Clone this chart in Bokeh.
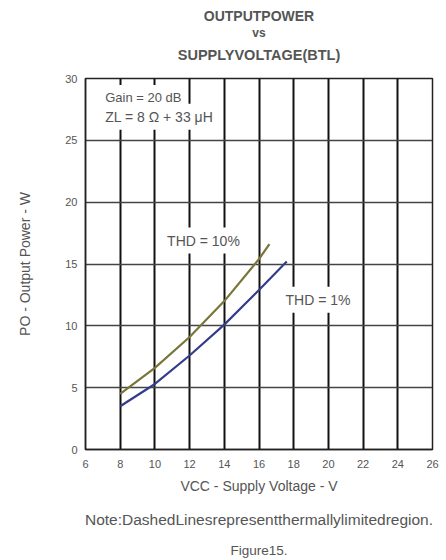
from bokeh.plotting import figure
from bokeh.models import Label, FixedTicker, Range1d, Title
from bokeh.embed import file_html
from bokeh.resources import INLINE

# Output power vs supply voltage (BTL)
supply_10 = [8, 10, 12, 14, 16, 16.6]
power_10 = [4.5, 6.6, 9.1, 12.0, 15.4, 16.6]
supply_1 = [8, 10, 12, 14, 16, 17.6]
power_1 = [3.5, 5.3, 7.6, 10.1, 12.9, 15.2]

x_ticks = [6, 8, 10, 12, 14, 16, 18, 20, 22, 24, 26]
y_ticks = [0, 5, 10, 15, 20, 25, 30]

FONT = "Liberation Sans"
TXT = "#555555"

p = figure(width=446, height=560, output_backend="svg", toolbar_location=None,
           x_range=Range1d(6, 26), y_range=Range1d(0, 30),
           min_border_left=85, min_border_right=14, min_border_top=78,
           min_border_bottom=111)
p.background_fill_color = "white"
p.border_fill_color = "white"
p.outline_line_color = "#222222"
p.outline_line_width = 1.5

# axes
for ax in (p.xaxis, p.yaxis):
    ax.major_tick_in = 0
    ax.major_tick_out = 0
    ax.minor_tick_in = 0
    ax.minor_tick_out = 0
    ax.axis_line_color = "#222222"
    ax.axis_line_width = 1.5
    ax.major_label_text_font = FONT
    ax.major_label_text_font_size = "11px"
    ax.major_label_text_color = TXT
    ax.axis_label_text_font = FONT
    ax.axis_label_text_font_size = "14px"
    ax.axis_label_text_color = TXT
    ax.axis_label_text_font_style = "normal"

p.xaxis.ticker = FixedTicker(ticks=x_ticks)
p.yaxis.ticker = FixedTicker(ticks=y_ticks)
p.xaxis.major_label_standoff = 10
p.yaxis.major_label_standoff = 8
p.xaxis.axis_label = "VCC - Supply Voltage - V"
p.xaxis.axis_label_standoff = 7
p.yaxis.axis_label = "PO - Output Power - W"
p.yaxis.axis_label_standoff = 29

# grid: heavy verticals, lighter horizontals
p.xgrid.ticker = FixedTicker(ticks=x_ticks[1:-1])
p.ygrid.ticker = FixedTicker(ticks=y_ticks[1:-1])
p.xgrid.grid_line_color = "#111111"
p.xgrid.grid_line_width = 2
p.ygrid.grid_line_color = "#444444"
p.ygrid.grid_line_width = 1.5

# curves
p.line(supply_10, power_10, line_color="#7a7638", line_width=2.2)
p.line(supply_1, power_1, line_color="#343c8c", line_width=2.2)

def heading(text, place, size="14px", style="bold", standoff=0, offset=0):
    t = Title(text=text, align="center", text_font=FONT, text_font_size=size,
              text_font_style=style, text_color=TXT, standoff=standoff,
              offset=offset)
    p.add_layout(t, place)

# headings above the frame (first one added sits nearest the frame)
heading(" ", "above", size="8px", standoff=0)
heading("SUPPLYVOLTAGE(BTL)", "above", size="14.5px", standoff=9)
heading("vs", "above", size="12px", standoff=1)
heading("OUTPUTPOWER", "above", standoff=0)

# footnotes below the axis
heading("Note:DashedLinesrepresentthermallylimitedregion.", "below", size="15.5px",
        style="normal", standoff=25)
heading("Figure15.", "below", size="13.5px", style="normal", standoff=0, offset=-8)

def note(x, y, text, size="13px", align="center"):
    lbl = Label(x=x, y=y, text=text, text_font=FONT, text_font_size=size,
                text_color=TXT, text_align=align, text_baseline="middle",
                background_fill_color="white", padding=5)
    p.add_layout(lbl)

# in-plot annotations
note(6.85, 28.46, "Gain = 20 dB", align="left")
note(6.85, 26.91, "ZL = 8 Ω + 33 μH", size="14px", align="left")
note(12.8, 16.9, "THD = 10%", size="14px")
note(19.4, 12.1, "THD = 1%", size="14px")

open("out.html", "w").write(file_html(p, INLINE))
